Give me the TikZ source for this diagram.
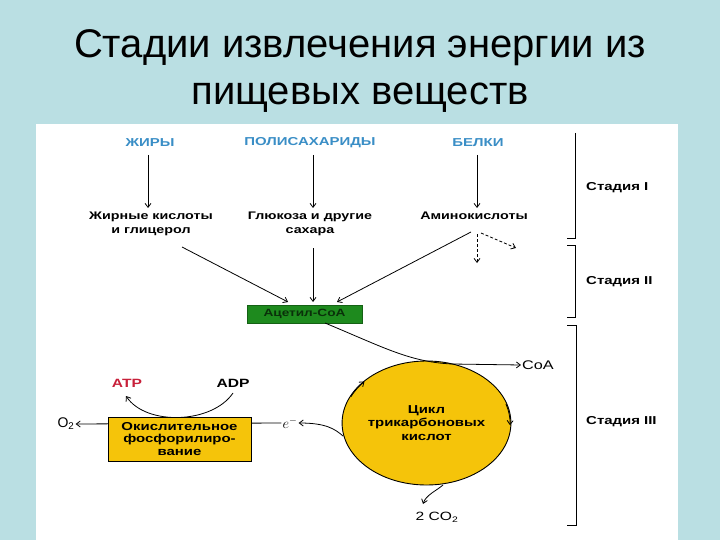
\documentclass[tikz,border=0pt]{standalone}
\usepackage{fontspec}
\setmainfont{Liberation Sans}
\newfontfamily\dfont[FakeStretch=1.3]{Liberation Sans}
\usetikzlibrary{arrows.meta,shapes.geometric}
\definecolor{bgc}{HTML}{BADFE3}
\definecolor{blu}{HTML}{3A8EC6}
\definecolor{ylw}{HTML}{F5C40A}
\definecolor{grn}{HTML}{1E8A1E}
\definecolor{atpc}{HTML}{C8203A}
\tikzset{
  title/.style={font=\fontsize{40}{42}\selectfont, anchor=base, inner sep=0},
  dtxt/.style={font=\dfont\bfseries\fontsize{11}{14}\selectfont, align=center, inner sep=1pt},
  btxt/.style={dtxt, text=blu, font=\dfont\bfseries\fontsize{11.5}{14}\selectfont},
  stg/.style={font=\dfont\bfseries\fontsize{11.5}{13}\selectfont, anchor=west, inner sep=0},
  arr/.style={-{Straight Barb[length=4pt,width=6pt]}, line width=0.8pt},
  darr/.style={arr, dashed, dash pattern=on 3pt off 2pt},
  brk/.style={line width=0.9pt}
}
\begin{document}
\begin{tikzpicture}[x=1pt,y=-1pt]
\fill[bgc] (0,0) rectangle (720,540);
\useasboundingbox (0,0) rectangle (720,540);
\fill[white] (36,124) rectangle (678,540);

\node[title] (t1) at (360,58) {Стадии извлечения энергии из};
\node[title] (t2) at (360,105) {пищевых веществ};

% sources
\node[btxt] (fats) at (150,143) {ЖИРЫ};
\node[btxt] (poly) at (310,143) {ПОЛИСАХАРИДЫ};
\node[btxt] (prot) at (478,143) {БЕЛКИ};

\node[dtxt] (fa) at (151,224) {Жирные кислоты\\и глицерол};
\node[dtxt] (glu) at (310,224) {Глюкоза и другие\\сахара};
\node[dtxt] (amino) at (474,216) {Аминокислоты};

\node[fill=grn, draw=grn!70!black, minimum width=115pt, minimum height=18pt, inner sep=0,
      font=\dfont\bfseries\fontsize{10.5}{11}\selectfont, text=grn!35!black] (acoa) at (304.5,314) {Ацетил-СоА};

\coordinate (f1) at (148,155); \coordinate (f2) at (148,208);
\coordinate (p1) at (313,155); \coordinate (p2) at (313,208);
\coordinate (b1) at (477,155); \coordinate (b2) at (477,208);
\draw[arr] (f1) -- (f2);
\draw[arr] (p1) -- (p2);
\draw[arr] (b1) -- (b2);

\coordinate (fa1) at (182,247); \coordinate (fa2) at (288,302);
\coordinate (g1) at (313,248); \coordinate (g2) at (313,302);
\coordinate (a1) at (471,232); \coordinate (a2) at (337,302);
\draw[arr] (fa1) -- (fa2);
\draw[arr] (g1) -- (g2);
\draw[arr] (a1) -- (a2);
\coordinate (d1) at (477,234); \coordinate (d2) at (477,263);
\coordinate (d3) at (481,233); \coordinate (d4) at (516,248);
\draw[darr] (d1) -- (d2);
\draw[darr] (d3) -- (d4);

% TCA cycle
\node[ellipse, draw, line width=0.9pt, fill=ylw, minimum width=167pt, minimum height=124pt, inner sep=0,
      dtxt, font=\dfont\bfseries\fontsize{11.5}{13.5}\selectfont] (tca) at (426.5,423) {Цикл\\трикарбоновых\\кислот};
\draw[arr] (tca.center) ++(205:83.5 and 62) arc[start angle=205, end angle=222, x radius=83.5, y radius=62];
\draw[arr] (tca.center) ++(-18:83.5 and 62) arc[start angle=-18, end angle=2, x radius=83.5, y radius=62];

\node[inner sep=1pt, font=\dfont\fontsize{12.5}{14}\selectfont] (coa) at (538,365) {CoA};
\coordinate (c1) at (325,323);
\draw[arr] (c1) .. controls (385,348) and (410,362) .. (452,364) -- (coa.west);

% electrons
\node[inner sep=1pt, font=\fontsize{14}{15}\selectfont] (el) at (290,423) {$e^-$};
\node[inner sep=1pt, font=\fontsize{14}{15}\selectfont] (o2) at (66,424) {O\textsubscript{2}};
\coordinate (e0) at (343,436);
\draw[arr] (e0) .. controls (335,429) and (326,423) .. (el.east);
\draw[arr] (el.west) -- (o2.east);

\node[draw, line width=1pt, fill=ylw, minimum width=143pt, minimum height=44pt, inner sep=0,
      dtxt, font=\dfont\bfseries\fontsize{11.5}{12.5}\selectfont] (ox) at (179.5,439) {Окислительное\\фосфорилиро-\\вание};

\node[inner sep=1pt, font=\dfont\bfseries\fontsize{12}{13}\selectfont, text=atpc] (atp) at (127,383) {ATP};
\node[inner sep=1pt, font=\dfont\bfseries\fontsize{12}{13}\selectfont] (adp) at (233,383) {ADP};
\coordinate (ad0) at (233,393);
\coordinate (at0) at (126,396);
\draw[arr] (ad0) .. controls (212,424) and (146,426) .. (at0);

% CO2
\coordinate (k0) at (443,485);
\node[inner sep=1pt, font=\dfont\fontsize{12}{13}\selectfont] (co2) at (437,517) {2 CO\textsubscript{2}};
\coordinate (k1) at (423,504);
\draw[arr] (k0) .. controls (436,491) and (426,495) .. (k1);

% stage brackets
\draw[brk] (575,133) -- (575,238) -- (567,238);
\draw[brk] (567,245) -- (575,245) -- (575,317) -- (567,317);
\draw[brk] (567,325) -- (576,325) -- (576,525) -- (567,525);
\node[stg] (s1) at (586,188) {Стадия I};
\node[stg] (s2) at (586,282) {Стадия II};
\node[stg] (s3) at (586,422) {Стадия III};
\end{tikzpicture}
\end{document}
